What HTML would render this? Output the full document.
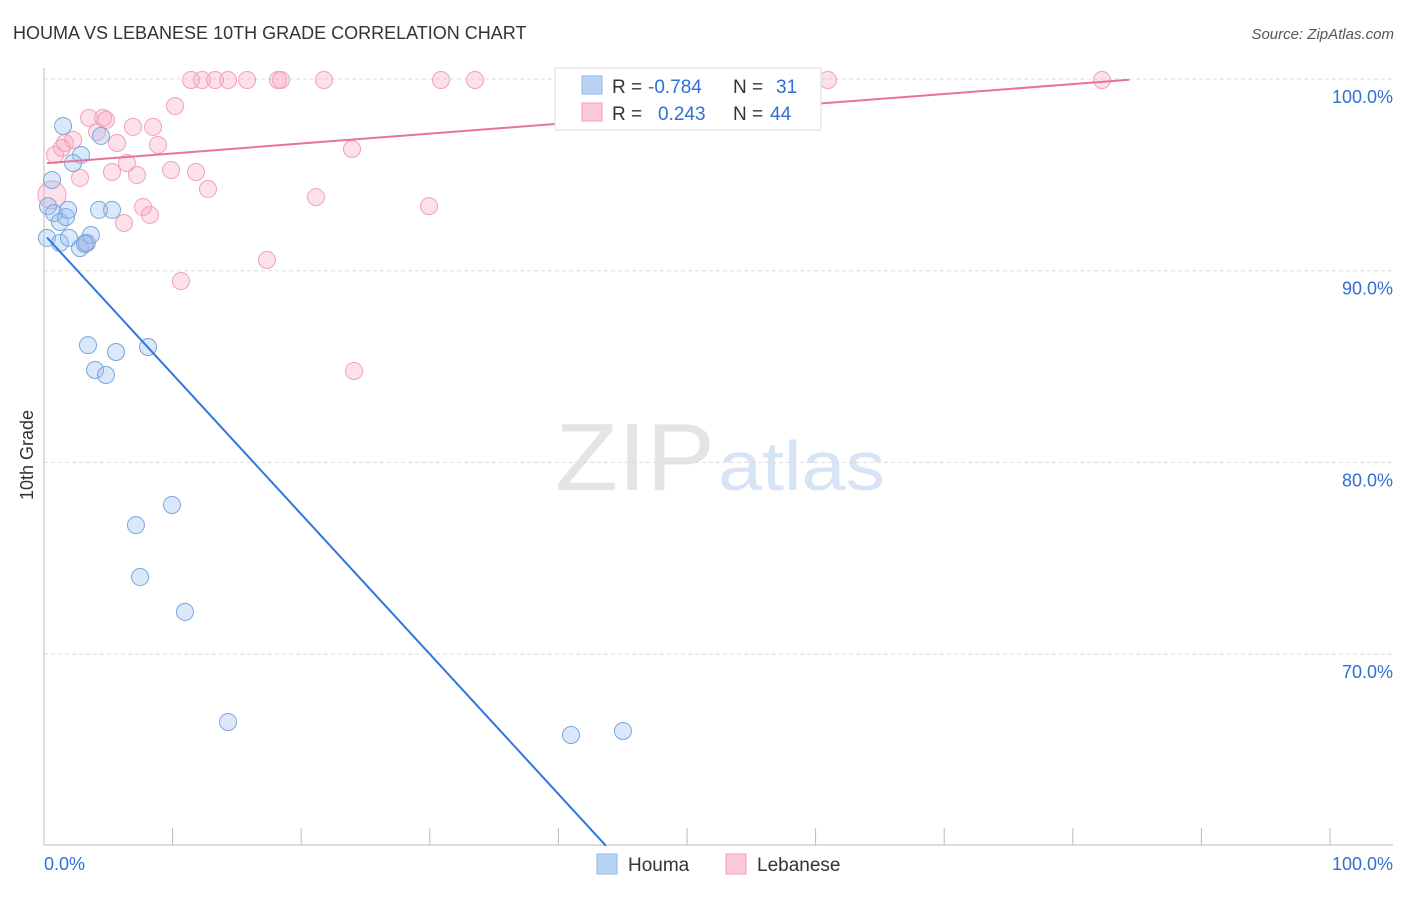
<!DOCTYPE html>
<html><head><meta charset="utf-8"><style>
body{margin:0;background:#fff;font-family:"Liberation Sans",sans-serif}
svg text{font-family:"Liberation Sans",sans-serif}
</style></head><body>
<svg id="chart" width="1406" height="892">
<text x="13" y="39" font-size="18" fill="#333">HOUMA VS LEBANESE 10TH GRADE CORRELATION CHART</text>
<text x="1394" y="39" font-size="15" fill="#555" text-anchor="end" font-style="italic">Source: ZipAtlas.com</text>
<text x="715" y="490" font-size="96" fill="#e4e4e4" text-anchor="end" font-family="Liberation Serif" textLength="160" lengthAdjust="spacingAndGlyphs">ZIP</text>
<text x="718" y="490" font-size="70" fill="#d6e4f5" textLength="167" lengthAdjust="spacingAndGlyphs">atlas</text>
<text x="33" y="455" font-size="18" fill="#333" transform="rotate(-90 33 455)" text-anchor="middle">10th Grade</text>
<g id="grid"></g><g id="marks"></g>
<g>
<rect x="555" y="68" width="266" height="62" fill="#fff" stroke="#ddd"/>
<rect x="582" y="76" width="20" height="18" fill="#b9d3f5" stroke="#8fb5e8"/>
<rect x="582" y="103" width="20" height="18" fill="#fbc9d8" stroke="#f1a0b9"/>
<text x="612" y="93" font-size="19" fill="#333">R =</text>
<text x="648" y="93" font-size="19" fill="#2f6fd6">-0.784</text>
<text x="733" y="93" font-size="19" fill="#333">N =</text>
<text x="776" y="93" font-size="19" fill="#2f6fd6">31</text>
<text x="612" y="120" font-size="19" fill="#333">R =</text>
<text x="658" y="120" font-size="19" fill="#2f6fd6">0.243</text>
<text x="733" y="120" font-size="19" fill="#333">N =</text>
<text x="770" y="120" font-size="19" fill="#2f6fd6">44</text>
</g>
<g>
<rect x="597" y="854" width="20" height="20" fill="#b9d3f5" stroke="#8fb5e8"/>
<text x="628" y="871" font-size="19" fill="#333">Houma</text>
<rect x="726" y="854" width="20" height="20" fill="#fbc9d8" stroke="#f1a0b9"/>
<text x="757" y="871" font-size="19" fill="#333">Lebanese</text>
</g>
</svg>
<script>
const yTicks=[100,90,80,70];
const yTickLabels=["100.0%","90.0%","80.0%","70.0%"];
const xTickLabels=["0.0%","100.0%"];
const houmaX=[1.48,2.88,4.43,2.26,0.62,0.31,0.78,1.24,1.71,1.87,4.28,5.29,0.23,1.24,1.94,2.80,3.34,3.65,3.42,3.97,4.82,5.60,8.09,7.15,9.95,7.47,10.96,14.31,40.98,45.02,3.19];
const houmaY=[97.55,96.04,97.03,95.62,94.73,93.37,93.01,92.54,92.80,93.17,93.17,93.17,91.71,91.45,91.71,91.18,91.45,91.86,86.12,84.82,84.56,85.76,86.02,76.73,77.78,74.02,72.20,66.46,65.78,65.99,91.39];
const lebX=[0.62,0.86,1.63,2.26,1.40,2.80,4.12,3.50,4.59,4.82,5.68,6.45,5.29,7.23,6.92,8.48,8.86,7.70,8.24,6.22,10.19,9.88,11.82,12.75,10.65,11.43,12.29,13.30,14.31,15.79,18.20,18.43,21.77,30.87,33.51,60.96,82.27,17.34,21.15,23.95,24.11,29.94,3.19];
const lebY=[93.95,96.04,96.66,96.82,96.40,94.84,97.24,97.97,97.97,97.86,96.66,95.62,95.15,94.99,97.50,97.50,96.56,93.32,92.91,92.49,98.59,95.25,95.15,94.26,89.46,99.95,99.95,99.95,99.95,99.95,99.95,99.95,99.95,99.95,99.95,99.95,99.95,90.56,93.84,96.35,84.77,93.37,91.45];
const houmaTrend=[91.9,-0.73];
const lebTrend=[95.6,0.0517];
const X=v=>44+v*12.86, Y=v=>79+(100-v)*19.17;
const NS="http://www.w3.org/2000/svg";
const grid=document.getElementById('grid'), marks=document.getElementById('marks');
function mk(tag,attrs,parent){const e=document.createElementNS(NS,tag);for(const k in attrs)e.setAttribute(k,attrs[k]);parent.appendChild(e);return e;}
yTicks.forEach((t,i)=>{
 const l=mk('line',{x1:44,x2:1393,y1:Y(t),y2:Y(t),stroke:'#ddd','stroke-dasharray':'4,3'},grid);
 
 
 const tx=mk('text',{x:1393,y:Y(t)+24,'font-size':18,fill:'#2f6fd6','text-anchor':'end'},grid);tx.textContent=yTickLabels[i];
 
 
});
mk('line',{x1:44,x2:44,y1:68,y2:845,stroke:'#bbb'},grid);
mk('line',{x1:44,x2:1393,y1:845,y2:845,stroke:'#bbb'},grid);
for(let i=0;i<=10;i++){const t=mk('line',{x1:X(i*10),x2:X(i*10),y1:828,y2:845,stroke:'#bbb'},grid);
 
 }
[[0,'start',44],[1,'end',1393]].forEach(([i,a,x])=>{const t=mk('text',{x:x,y:870,'font-size':18,fill:'#2f6fd6','text-anchor':a},grid);t.textContent=xTickLabels[i];
 
 });
lebX.forEach((x,i)=>{const c=mk('circle',{cx:X(x),cy:Y(lebY[i]),r:i==0?14:8.5,fill:'rgba(248,170,195,0.35)',stroke:'#f1a0b9','stroke-width':1},marks);
 
 });
houmaX.forEach((x,i)=>{const c=mk('circle',{cx:X(x),cy:Y(houmaY[i]),r:8.5,fill:'rgba(150,190,240,0.35)',stroke:'#7aa6e0','stroke-width':1},marks);
 
 });
const x1h=0.23, x2h=(60-houmaTrend[0])/houmaTrend[1];
const hl=mk('line',{x1:X(x1h),y1:Y(houmaTrend[0]+houmaTrend[1]*x1h),x2:X(x2h),y2:Y(60),stroke:'#2f77e0','stroke-width':2},marks);


const ll=mk('line',{x1:X(0.23),y1:Y(lebTrend[0]+lebTrend[1]*0.23),x2:X(84.4),y2:Y(lebTrend[0]+lebTrend[1]*84.4),stroke:'#e8739a','stroke-width':2},marks);


</script>
</body></html>
